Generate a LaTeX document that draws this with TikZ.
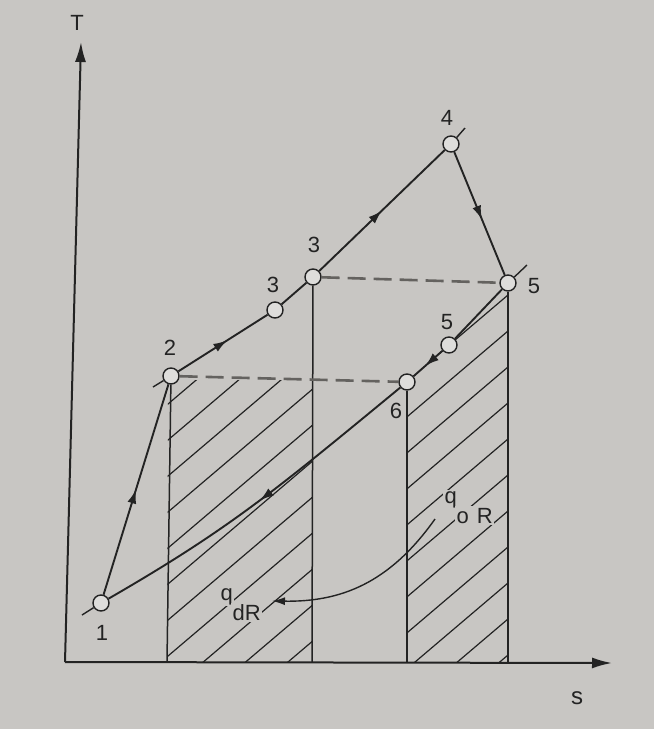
\documentclass[tikz,border=0pt]{standalone}
\usepackage{fontspec}
\setmainfont{Liberation Sans}
\usetikzlibrary{arrows.meta,decorations.markings}
\definecolor{bgc}{RGB}{200,198,195}
\definecolor{ink}{RGB}{35,35,35}
\definecolor{dashc}{RGB}{100,98,95}
\begin{document}
\begin{tikzpicture}[x=1pt,y=-1pt,
  pt/.style={circle,draw=ink,fill=bgc!60!white,line width=1.4pt,minimum size=16pt,inner sep=0pt},
  cyc/.style={draw=ink,line width=1.9pt},
  midarrow/.style={postaction={decorate},decoration={markings,mark=at position #1 with {\arrow{Latex[length=14pt,width=9pt]}}}},
  axisline/.style={draw=ink,line width=2pt,-{Latex[length=20pt,width=11pt]}},
  vline/.style={draw=ink,line width=1.5pt},
  hatchline/.style={draw=ink,line width=1.2pt},
  dashline/.style={draw=dashc,line width=2.6pt,dash pattern=on 18pt off 8pt},
  ticky/.style={draw=ink,line width=1.4pt},
  lab/.style={font=\fontsize{22}{26}\selectfont,text=ink,inner sep=0pt},
  qlab/.style={font=\fontsize{22}{26}\selectfont,text=ink,inner sep=1.5pt,fill=bgc}
]
\useasboundingbox (0,0) rectangle (654,729);
\fill[bgc] (0,0) rectangle (654,729);

% hatching
\begin{scope}
  \clip (168,380) -- (313,380) -- (312,662) -- (167,662) -- cycle;
  \foreach \k in {-6,...,20} \draw[hatchline] (150,{455.3+36*\k}) -- ++(420,-357);
\end{scope}
\begin{scope}
  \clip (407,382) -- (449,345) -- (508,283) -- (508,662) -- (407,662) -- cycle;
  \foreach \k in {-6,...,20} \draw[hatchline] (150,{455.3+36*\k}) -- ++(420,-357);
\end{scope}

% axes
\coordinate (O) at (65,662);
\coordinate (Ttip) at (81,42);
\coordinate (Stip) at (612,663);
\draw[axisline] (O) -- (Ttip);
\draw[axisline] (O) -- (Stip);
\node[lab] (Tl) at (77,23) {T};
\node[lab,font=\fontsize{24}{28}\selectfont] (Sl) at (577,698) {s};

% state points
\node[pt] (p1) at (101,603) {};
\node[pt] (p2) at (171,376) {};
\node[pt] (p3a) at (275,310) {};
\node[pt] (p3b) at (313,277) {};
\node[pt] (p4) at (451,144) {};
\node[pt] (p5) at (508,283) {};
\node[pt] (p5a) at (449,345) {};
\node[pt] (p6) at (407,382) {};

% vertical lines
\coordinate (b2) at (167,662);
\coordinate (b3) at (312,662);
\coordinate (b6) at (407,662);
\coordinate (b5) at (508,662);
\draw[vline] (p2) -- (b2);
\draw[vline] (p3b) -- (b3);
\draw[vline] (p6) -- (b6);
\draw[vline] (p5) -- (b5);

% dashed lines
\draw[dashline] (p2) -- (p6);
\draw[dashline] (p3b) -- (p5);

% cycle
\draw[cyc,midarrow=0.5] (p1) -- (p2);
\draw[cyc,midarrow=0.55] (p2) -- (p3a);
\draw[cyc] (p3a) -- (p3b);
\draw[cyc,midarrow=0.5] (p3b) -- (p4);
\draw[cyc,midarrow=0.55] (p4) -- (p5);
\draw[cyc] (p5) -- (p5a);
\draw[cyc,midarrow=0.6] (p5a) -- (p6);
\draw[cyc,midarrow=0.5] (p6) .. controls (277,489) and (231,528) .. (p1);

% tick marks through points
\coordinate (t1) at (82,615);
\coordinate (t2) at (153,387);
\coordinate (t4) at (465,128);
\coordinate (t5) at (527,265);
\draw[ticky] (p1) -- (t1);
\draw[ticky] (p2) -- (t2);
\draw[ticky] (p4) -- (t4);
\draw[ticky] (p5) -- (t5);

% point labels
\node[lab] (l1) at (102,633) {1};
\node[lab] (l2) at (170,348) {2};
\node[lab] (l3a) at (273,285) {3};
\node[lab] (l3b) at (314,245) {3};
\node[lab] (l4) at (447,118) {4};
\node[lab] (l5) at (534,286) {5};
\node[lab] (l5a) at (447,322) {5};
\node[lab] (l6) at (396,411) {6};

% heat labels
\node[qlab,anchor=base west] (qo1) at (443,503) {q};
\node[qlab,anchor=base west] (qo2) at (455,523) {o\hspace{8pt}R};
\node[qlab,anchor=base west] (qd1) at (219,600) {q};
\node[qlab,anchor=base west] (qd2) at (231,620) {dR};

% transfer arrow
\coordinate (qs) at (435,519);
\coordinate (qe) at (272,601);
\draw[draw=ink,line width=1.4pt,-{Latex[length=13pt,width=8pt]}] (qs) .. controls (389,584) and (340,602) .. (qe);
\end{tikzpicture}
\end{document}
